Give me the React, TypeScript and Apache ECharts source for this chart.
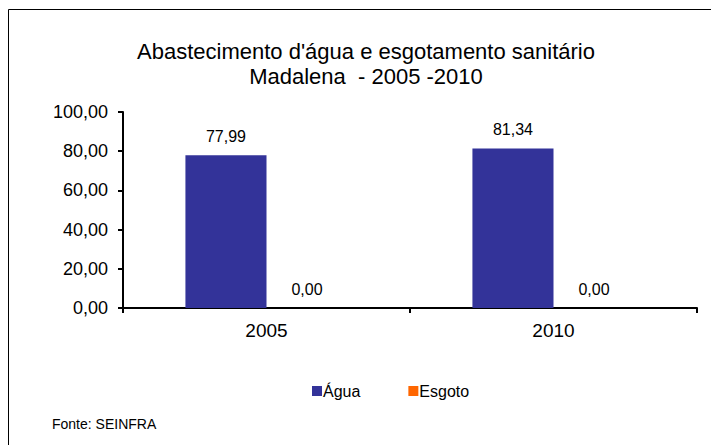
import React, { useEffect, useRef } from "react";
import * as echarts from "echarts";

const categories = ["2005", "2010"];
const agua = [77.99, 81.34];
const esgoto = [0.0, 0.0];
const seriesNames = ["Água", "Esgoto"];
const yTicks = [0, 20, 40, 60, 80, 100];

const fmt = (v: number) => v.toFixed(2).replace(".", ",");

export default function App() {
  const ref = useRef<HTMLDivElement>(null);
  useEffect(() => {
    document.body.style.margin = "0";
    const chart = echarts.init(ref.current!, undefined, { renderer: "svg" });
    const font = "'Liberation Sans', Arial, sans-serif";
    chart.setOption({
      animation: false,
      backgroundColor: "#ffffff",
      textStyle: { fontFamily: font },
      title: {
        text: "Abastecimento d'água e esgotamento sanitário\nMadalena  - 2005 -2010",
        left: 361,
        textAlign: "center",
        top: 34,
        textStyle: { fontFamily: font, fontSize: 22, fontWeight: "normal", color: "#000", lineHeight: 25 },
      },
      legend: {
        data: seriesNames,
        left: 307,
        top: 378,
        itemWidth: 10,
        itemHeight: 10,
        itemGap: 48,
        icon: "rect",
        textStyle: { fontSize: 16, color: "#000", padding: [0, 0, 0, -4] },
      },
      grid: { left: 123, right: 14, top: 112, bottom: 137, containLabel: false },
      xAxis: {
        type: "category",
        data: categories,
        axisLine: { lineStyle: { color: "#000", width: 2 } },
        axisTick: { show: true, alignWithLabel: false, length: 5, lineStyle: { color: "#000", width: 2 } },
        axisLabel: { color: "#000", fontSize: 19, margin: 13 },
      },
      yAxis: {
        type: "value",
        min: yTicks[0],
        max: yTicks[yTicks.length - 1],
        interval: 20,
        axisLine: { show: true, lineStyle: { color: "#000", width: 2 } },
        axisTick: { show: true, length: 5, lineStyle: { color: "#000", width: 2 } },
        splitLine: { show: false },
        axisLabel: { color: "#000", fontSize: 18, margin: 15, formatter: (v: number) => fmt(v) },
      },
      series: [
        {
          name: seriesNames[0],
          type: "bar",
          data: agua,
          barGap: "0%",
          barCategoryGap: "43.5%",
          itemStyle: { color: "#333399" },
          label: { show: true, position: "top", distance: 11, color: "#000", fontSize: 16, formatter: (p: any) => fmt(p.value) },
        },
        {
          name: seriesNames[1],
          type: "bar",
          data: esgoto,
          itemStyle: { color: "#FF6600" },
          label: { show: true, position: "top", distance: 11, color: "#000", fontSize: 16, formatter: (p: any) => fmt(p.value) },
        },
      ],
      graphic: [
        { type: "line", shape: { x1: 8.5, y1: 9.5, x2: 711, y2: 9.5 }, style: { stroke: "#000", lineWidth: 1 } },
        { type: "line", shape: { x1: 8.5, y1: 9.5, x2: 8.5, y2: 445 }, style: { stroke: "#000", lineWidth: 1 } },
        {
          type: "text",
          left: 52,
          top: 417,
          style: { text: "Fonte: SEINFRA", fontSize: 14, fill: "#000", fontFamily: font },
        },
      ],
    });
    return () => chart.dispose();
  }, []);
  return <div ref={ref} style={{ width: 711, height: 445 }} />;
}
